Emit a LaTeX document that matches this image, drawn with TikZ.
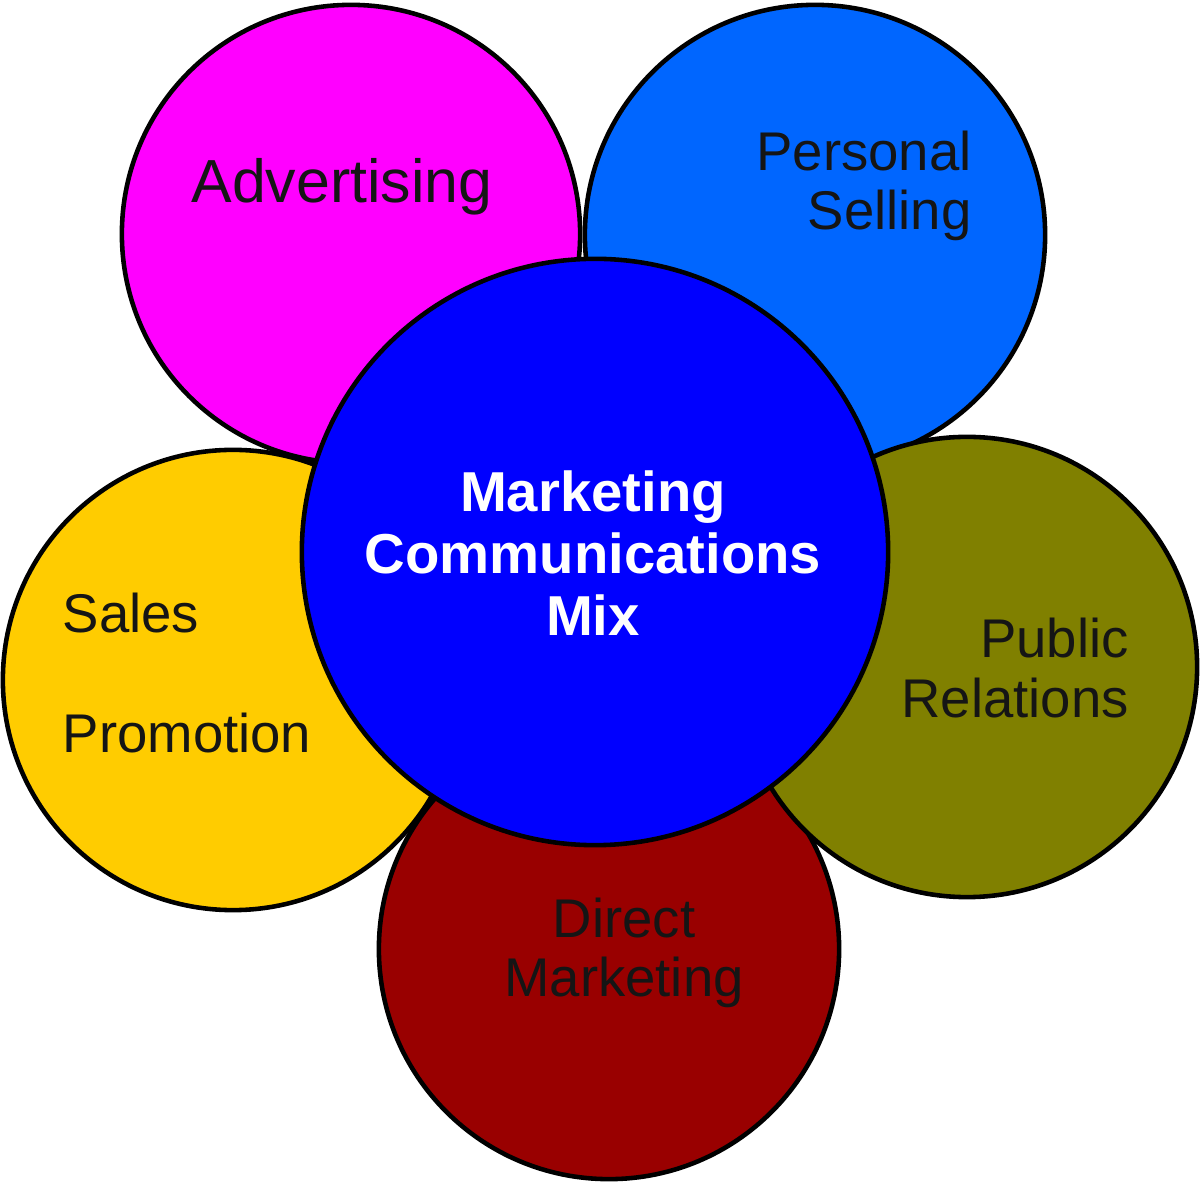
\documentclass[tikz,border=0pt]{standalone}
\usepackage{fontspec}
\setmainfont{Liberation Sans}
\definecolor{advpink}{HTML}{FF00FF}
\definecolor{sellblue}{HTML}{0066FF}
\definecolor{mixblue}{HTML}{0000FF}
\definecolor{prolive}{HTML}{808000}
\definecolor{promogold}{HTML}{FFCC00}
\definecolor{directred}{HTML}{990000}
\definecolor{labeldark}{HTML}{151515}

\begin{document}
\begin{tikzpicture}[x=0.01cm,y=-0.01cm]
\tikzset{petal/.style = {shape=circle,draw=black,line width=1.3pt,inner sep=0pt,minimum size=4.6cm}}
\tikzset{petaltext/.style = {text=labeldark,font=\fontsize{15.5}{17}\selectfont,inner sep=0pt}}
\tikzset{hubtext/.style = {text=white,font=\bfseries\fontsize{16}{17.6}\selectfont,align=center,inner sep=0pt}}
\useasboundingbox (0,0) rectangle (1200,1183);
% circles
\node[petal, fill=directred] (direct) at (609,949) {};
\node[petal, fill=sellblue] (selling) at (815,235) {};
\node[petal, fill=promogold] (promo) at (233,680) {};
\node[petal, fill=prolive] (pr) at (967,667) {};
\node[petal, fill=advpink, minimum size=4.58cm] (adv) at (351,234) {};
\node[petal, fill=mixblue, minimum size=5.86cm] (mix) at (595,552) {};
% labels
\node[petaltext, font=\fontsize{17.3}{19}\selectfont] (advtext) at (342,187) {Advertising};
\node[petaltext, align=right] (selltext) at (864,186) {Personal\\Selling};
\node[hubtext] (mixtext) at (593,553) {Marketing\\Communications\\Mix};
\node[petaltext, align=left, font=\fontsize{15.5}{34}\selectfont] (promotext) at (187,673) {Sales\\Promotion};
\node[petaltext, align=right] (prtext) at (1015,668) {Public\\Relations};
\node[petaltext, align=center] (directtext) at (624,953) {Direct\\Marketing};
\end{tikzpicture}
\end{document}
